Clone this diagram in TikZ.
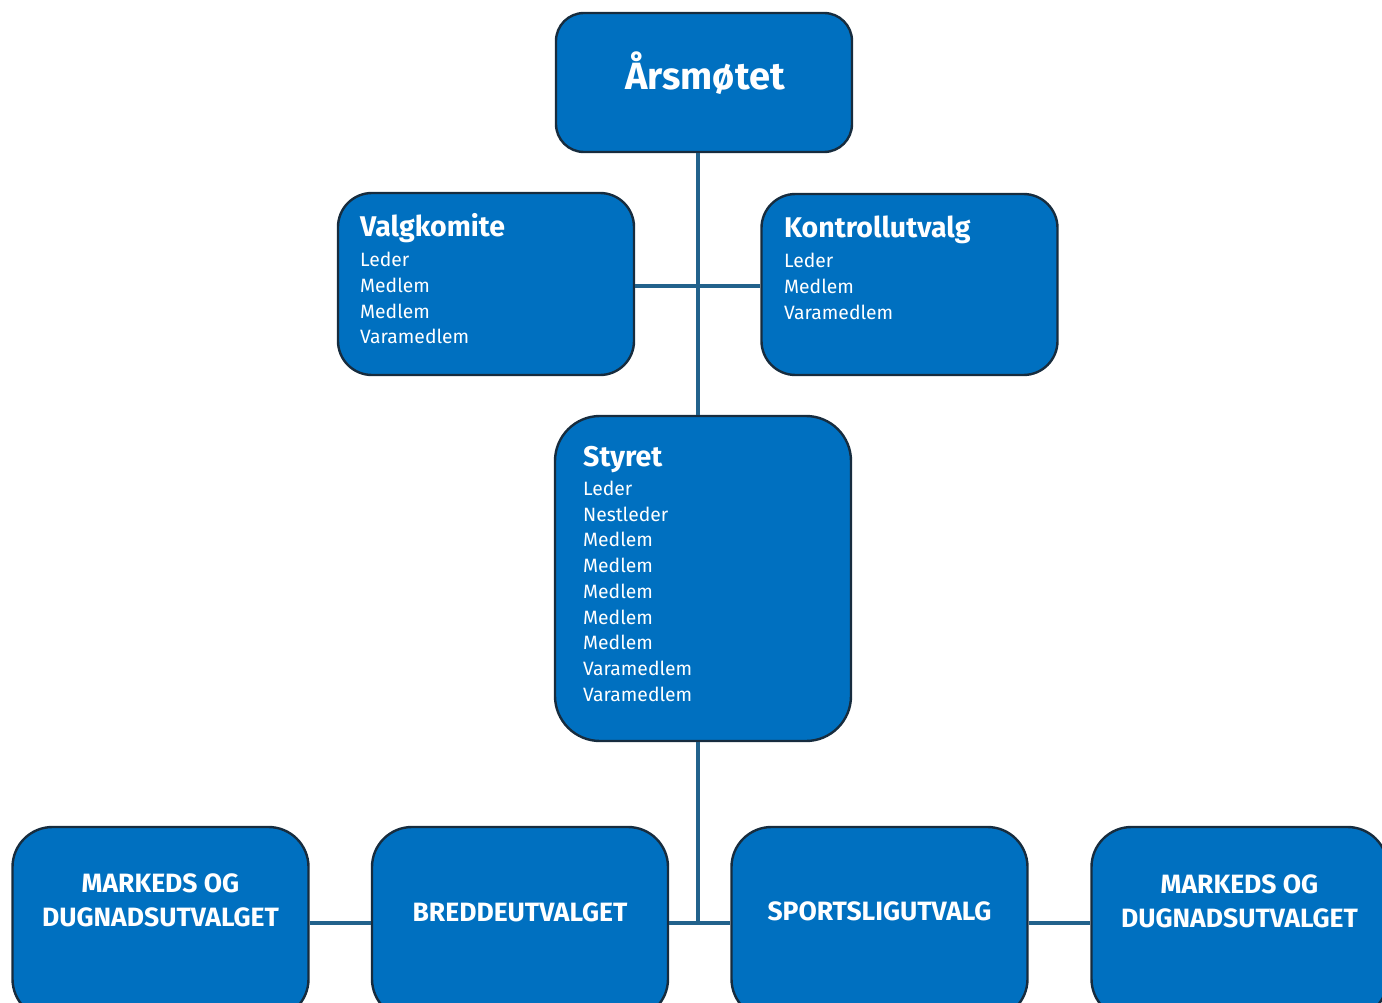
\documentclass[tikz,border=0pt]{standalone}
\usepackage{fontspec}
\setmainfont{Fira Sans}
\usetikzlibrary{positioning}
\definecolor{boxblue}{HTML}{0070C0}
\definecolor{boxedge}{HTML}{172C3E}
\definecolor{linkteal}{HTML}{22628C}
\begin{document}
\begin{tikzpicture}
        [x=1pt,y=-1pt,
        boxdecorate/.style={draw=boxedge,fill=boxblue,line width=2.4pt,rounded corners=34pt,
          minimum width=296pt,inner sep=0pt},
        linedecorate/.style={draw=linkteal,line width=3.2pt},
        headdecorate/.style={text=white,font=\fontsize{28.5}{34}\selectfont\bfseries,anchor=base west,inner sep=0pt},
        listdecorate/.style={text=white,font=\fontsize{19.3}{25}\selectfont,anchor=base west,inner sep=0pt},
        bottomdecorate/.style={text=white,font=\fontsize{26.5}{34}\selectfont\bfseries,align=center,inner sep=0pt}]
        \useasboundingbox (0,0) rectangle (1382,1003);
        \clip (0,0) rectangle (1382,1003);
        %% boxes
        \node (aars) at (704,82.5) [boxdecorate,minimum height=139pt,rounded corners=28pt] {};
        \node (aars-head) at (705,90) [headdecorate,anchor=base,font=\fontsize{38}{44}\selectfont\bfseries] {Årsmøtet};

        \node (valg) at (486,284) [boxdecorate,minimum height=182pt] {};
        \node (valg-head) at (360,237) [headdecorate] {Valgkomite};
        \foreach \entry [count=\i] in {Leder,Medlem,Medlem,Varamedlem}
          \node (valg-\i) at (360,241.5+25.5*\i) [listdecorate] {\entry};

        \node (kontroll) at (909.5,284.5) [boxdecorate,minimum height=181pt] {};
        \node (kontroll-head) at (784,238) [headdecorate] {Kontrollutvalg};
        \foreach \entry [count=\i] in {Leder,Medlem,Varamedlem}
          \node (kontroll-\i) at (784,242.5+25.5*\i) [listdecorate] {\entry};

        \node (styret) at (703,578.5) [boxdecorate,minimum height=325pt,rounded corners=45pt] {};
        \node (styret-head) at (583,466) [headdecorate] {Styret};
        \foreach \entry [count=\i] in {Leder,Nestleder,Medlem,Medlem,Medlem,Medlem,Medlem,Varamedlem,Varamedlem}
          \node (styret-\i) at (583,469.5+25.75*\i) [listdecorate] {\entry};

        %% bottom row
        \foreach \nodename/\x/\shift/\label in {mark1/160.5/23/{MARKEDS OG\\DUGNADSUTVALGET},
          bredde/520/11/{BREDDEUTVALGET}, sport/879.5/12/{SPORTSLIGUTVALG},
          mark2/1239.5/22/{MARKEDS OG\\DUGNADSUTVALGET}}
        {
          \node (\nodename) at (\x,923) [boxdecorate,minimum height=192pt,rounded corners=40pt] {};
          \node (\nodename-text) at (\x,923-\shift) [bottomdecorate] {\label};
        }
        %% lines
        \coordinate (split) at (698,922);
        \coordinate (cross) at (698,286);
        \draw [linedecorate] (aars.south -| split) -- (styret.north -| split);
        \draw [linedecorate] (valg.east |- cross) -- (kontroll.west |- cross);
        \draw [linedecorate] (styret.south -| split) -- (split);
        \path
        \foreach \startnode/\endnode in {mark1/bredde, bredde/sport, sport/mark2}
        {
          (\startnode) edge[linedecorate] (\endnode)
        };
\end{tikzpicture}
\end{document}
